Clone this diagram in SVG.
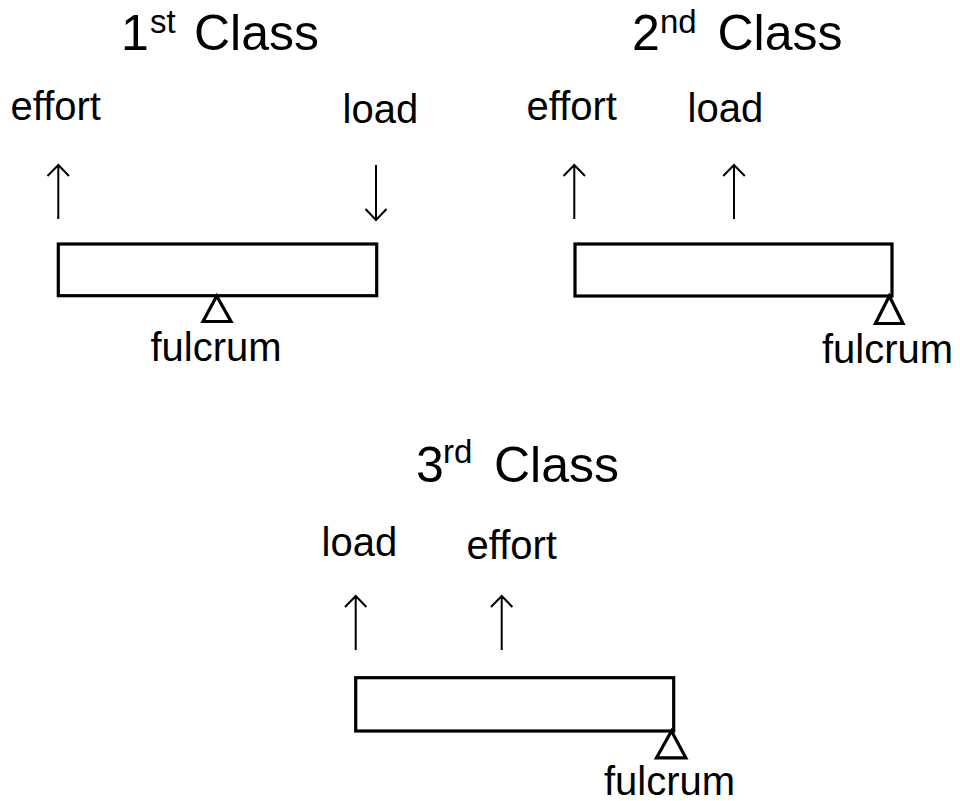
<svg xmlns="http://www.w3.org/2000/svg" width="960" height="801" viewBox="0 0 960 801">
<style>
text{font-family:"Liberation Sans",Arial,sans-serif;fill:#000}
.t{font-size:50px}
.sup{font-size:33px}
.l{font-size:40px}
.beam{fill:#fff;stroke:#000;stroke-width:3.2}
.fulc{fill:#fff;stroke:#000;stroke-width:3.2;stroke-linejoin:miter}
.arr{fill:none;stroke:#000;stroke-width:2}
</style>
<rect width="960" height="801" fill="#fff"/>
<g id="class1">
<text class="t"><tspan x="121" y="50">1</tspan><tspan class="sup" x="150" y="33">st</tspan><tspan x="194" y="50">Class</tspan></text>
<text class="l" x="10.5" y="120">effort</text>
<text class="l" x="342.5" y="123">load</text>
<rect class="beam" x="58.3" y="244" width="318.4" height="51.7"/>
<polygon class="fulc" points="216.7,296 203,321.5 231,321.5"/>
<text class="l" x="150.5" y="361">fulcrum</text>
</g>
<g id="class2">
<text class="t"><tspan x="632" y="50">2</tspan><tspan class="sup" x="660" y="33">nd</tspan><tspan x="717.5" y="50">Class</tspan></text>
<text class="l" x="526.5" y="120">effort</text>
<text class="l" x="687.5" y="122">load</text>
<rect class="beam" x="575" y="244" width="317" height="52"/>
<polygon class="fulc" points="889.3,296 875.5,323.5 903,323.5"/>
<text class="l" x="822" y="363">fulcrum</text>
</g>
<g id="class3">
<text class="t"><tspan x="416" y="482">3</tspan><tspan class="sup" x="443" y="463">rd</tspan><tspan x="494" y="482">Class</tspan></text>
<text class="l" x="321.5" y="556">load</text>
<text class="l" x="466.5" y="559">effort</text>
<rect class="beam" x="355.7" y="677.7" width="318" height="53.3"/>
<polygon class="fulc" points="671.5,731 656.5,757.8 685.8,757.8"/>
<text class="l" x="604" y="795">fulcrum</text>
</g>
<g id="connectors">
<path class="arr" d="M58.3,219V165M47.5,176L58.3,165L69,176"/>
<path class="arr" d="M376,165V220M365.5,209L376,220L386.5,209"/>
<path class="arr" d="M574.3,219V165M563.5,176L574.3,165L585,176"/>
<path class="arr" d="M734,219V165M723.2,176L734,165L744.8,176"/>
<path class="arr" d="M355.7,650V596M345,607L355.7,596L366.4,607"/>
<path class="arr" d="M501.7,650V596M491,607L501.7,596L512.4,607"/>
</g>
</svg>
